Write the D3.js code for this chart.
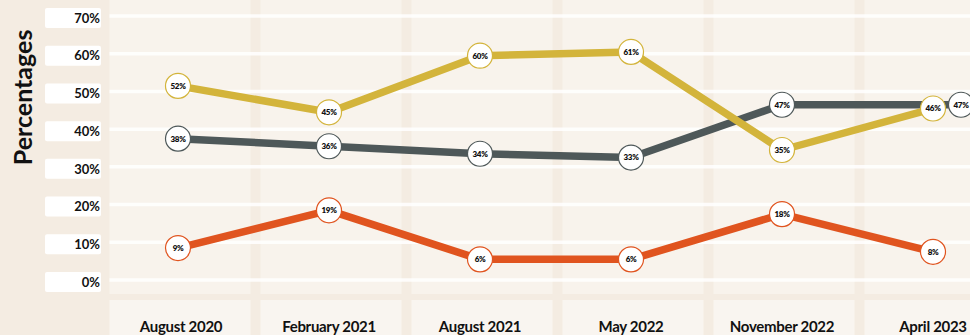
<!DOCTYPE html>
<html>
<head>
<meta charset="utf-8">
<script src="https://cdn.jsdelivr.net/npm/d3@7"></script>
<style>
  html, body { margin: 0; padding: 0; background: #f4ece2; }
  svg { display: block; }
</style>
</head>
<body>
<svg id="chart" width="970" height="335"></svg>
<script>
// Survey waves and the share (%) recorded for each answer group
const categories = ["August 2020", "February 2021", "August 2021", "May 2022", "November 2022", "April 2023"];
const yellowSeries = [52, 45, 60, 61, 35, 46];
const greySeries   = [38, 36, 34, 33, 47, 47];
const orangeSeries = [9, 19, 6, 6, 18, 8];
const yTicks = [0, 10, 20, 30, 40, 50, 60, 70];
const yAxisTitle = "Percentages";

const series = [
  { key: "grey",   values: greySeries,   color: "#4e5859" },
  { key: "yellow", values: yellowSeries, color: "#d3b43b" },
  { key: "orange", values: orangeSeries, color: "#e0541f" }
];

const W = 970, H = 335;
const svg = d3.select("#chart");
const font = "Lato, 'Open Sans', sans-serif";

// x: one column per wave; y: percentage scale
const x = d3.scalePoint().domain(categories).range([178, 933]);
const step = x.step();
const colW = step - 10;
const y = d3.scaleLinear().domain([0, 70]).range([282, 18]);

// column panels
const plotBottom = 294;
svg.append("g").selectAll("rect.col")
  .data(categories).join("rect")
  .attr("x", d => x(d) - colW / 2 + 2)
  .attr("y", 0)
  .attr("width", colW)
  .attr("height", plotBottom)
  .attr("fill", "#f8f3ec");

// label cells under each column
svg.append("g").selectAll("rect.lab")
  .data(categories).join("rect")
  .attr("x", d => x(d) - colW / 2 + 2)
  .attr("y", 300)
  .attr("width", colW)
  .attr("height", H - 300)
  .attr("fill", "#f9f5f0");

// horizontal grid lines
svg.append("g").selectAll("line")
  .data(yTicks).join("line")
  .attr("x1", x(categories[0]) - colW / 2 + 2)
  .attr("x2", W)
  .attr("y1", d => y(d) - 2)
  .attr("y2", d => y(d) - 2)
  .attr("stroke", "#ffffff")
  .attr("stroke-opacity", 0.85)
  .attr("stroke-width", 3.5);

// y tick labels on white tabs
const yAxis = svg.append("g");
yAxis.selectAll("rect")
  .data(yTicks).join("rect")
  .attr("x", 45).attr("width", 56)
  .attr("y", d => y(d) - 10).attr("height", 20)
  .attr("rx", 2)
  .attr("fill", "#ffffff");
yAxis.selectAll("text")
  .data(yTicks).join("text")
  .attr("x", 100)
  .attr("y", d => y(d))
  .attr("dy", "0.36em")
  .attr("text-anchor", "end")
  .attr("font-family", font)
  .attr("font-weight", 700)
  .attr("font-size", 13)
  .attr("fill", "#111")
  .text(d => d + "%");

// y axis title
svg.append("text")
  .attr("transform", `translate(32, ${(y(70) + y(30)) / 2 + 4}) rotate(-90)`)
  .attr("text-anchor", "middle")
  .attr("font-family", font)
  .attr("font-weight", 700)
  .attr("font-size", 25)
  .attr("fill", "#111")
  .text(yAxisTitle);

// x labels
svg.append("g").selectAll("text")
  .data(categories).join("text")
  .attr("x", (d, i) => x(d) + (i === 0 ? 3 : 0))
  .attr("y", 332)
  .attr("text-anchor", "middle")
  .attr("font-family", font)
  .attr("font-weight", 700)
  .attr("font-size", 15)
  .attr("fill", "#111")
  .attr("letter-spacing", -0.3)
  .text(d => d);

// point positions, nudging a marker sideways when it would sit on another
const R = 12.5;
const placed = [];
const pts = {};
["yellow", "grey", "orange"].forEach(k => {
  const s = series.find(d => d.key === k);
  pts[k] = s.values.map((v, i) => {
    let px = x(categories[i]), py = y(v);
    placed.forEach(p => {
      if (p.i === i && Math.abs(p.py - py) < R && Math.abs(p.px - px) < 2 * R) px = p.px + 2 * R + 3;
    });
    const pt = { i, v, px, py, color: s.color };
    placed.push(pt);
    return pt;
  });
});

const line = d3.line().x(d => d.px).y(d => d.py);

// lines
svg.append("g").selectAll("path")
  .data(series).join("path")
  .attr("d", d => line(pts[d.key]))
  .attr("fill", "none")
  .attr("stroke", d => d.color)
  .attr("stroke-width", 7.5)
  .attr("stroke-linejoin", "round");

// value markers
const markers = svg.append("g");
series.forEach(s => {
  const g = markers.append("g").selectAll("g")
    .data(pts[s.key]).join("g")
    .attr("transform", d => `translate(${d.px},${d.py})`);
  g.append("circle")
    .attr("r", R)
    .attr("fill", "#ffffff")
    .attr("stroke", s.color)
    .attr("stroke-width", 1.2);
  g.append("text")
    .attr("text-anchor", "middle")
    .attr("dy", "0.36em")
    .attr("font-family", font)
    .attr("font-weight", 800)
    .attr("font-size", 8)
    .attr("letter-spacing", -0.3)
    .attr("fill", "#111")
    .text(d => d.v + "%");
});
</script>
</body>
</html>
